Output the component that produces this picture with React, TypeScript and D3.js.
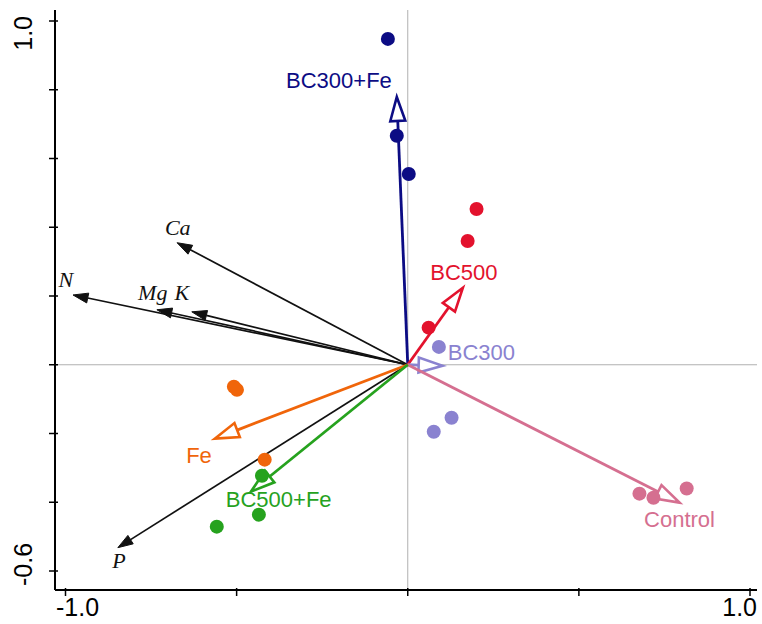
import React from "react";
import * as d3 from "d3";

// Treatment groups (sample scores)
const groups = ["BC300+Fe", "BC500", "BC300", "Control", "Fe", "BC500+Fe"];
const groupColors = ["#0c0c84", "#e3122d", "#8a82d0", "#d56f90", "#f0650a", "#26a21e"];
const groupPoints: [number, number][][] = [
  [[-0.058, 0.948], [-0.032, 0.666], [0.003, 0.555]],
  [[0.201, 0.453], [0.175, 0.36], [0.061, 0.108]],
  [[0.091, 0.052], [0.128, -0.154], [0.076, -0.195]],
  [[0.677, -0.375], [0.718, -0.387], [0.815, -0.36]],
  [[-0.508, -0.064], [-0.499, -0.073], [-0.418, -0.276]],
  [[-0.426, -0.323], [-0.435, -0.436], [-0.558, -0.471]],
];
const groupArrows: [number, number][] = [
  [-0.032, 0.779],
  [0.161, 0.224],
  [0.102, -0.003],
  [0.794, -0.401],
  [-0.564, -0.215],
  [-0.458, -0.369],
];
const groupLabelPos: [number, number][] = [
  [-0.201, 0.805],
  [0.164, 0.247],
  [0.117, 0.015],
  [0.794, -0.471],
  [-0.61, -0.285],
  [-0.377, -0.413],
];
const groupLabelAnchor = ["middle", "middle", "start", "middle", "middle", "middle"];

// Environmental variables
const variables = ["N", "Ca", "Mg", "K", "P"];
const variableArrows: [number, number][] = [
  [-0.978, 0.203],
  [-0.674, 0.355],
  [-0.733, 0.16],
  [-0.631, 0.154],
  [-0.847, -0.532],
];
const variableLabelPos: [number, number][] = [
  [-0.999, 0.227],
  [-0.672, 0.378],
  [-0.745, 0.189],
  [-0.66, 0.189],
  [-0.844, -0.59],
];

const xTicks = [-1.0, -0.5, 0, 0.5, 1.0];
const yTicks = [1.0, 0.8, 0.6, 0.4, 0.2, 0, -0.2, -0.4, -0.6];
const xTickLabels = ["-1.0", "1.0"];
const yTickLabels = ["1.0", "-0.6"];

const W = 762;
const H = 624;

function head(x0: number, y0: number, x1: number, y1: number, L: number, w: number) {
  const dx = x1 - x0;
  const dy = y1 - y0;
  const len = Math.sqrt(dx * dx + dy * dy) || 1;
  const ux = dx / len;
  const uy = dy / len;
  const bx = x1 - ux * L;
  const by = y1 - uy * L;
  const nx = -uy;
  const ny = ux;
  const pts = `${x1},${y1} ${bx + nx * w},${by + ny * w} ${bx - nx * w},${by - ny * w}`;
  return { bx, by, pts };
}

export default function App() {
  const x = d3.scaleLinear().domain([-1, 1]).range([65.5, 750]);
  const y = d3.scaleLinear().domain([-0.6, 1]).range([571, 21]);
  const left = 55;
  const right = 757;
  const top = 10;
  const bottom = 590;
  const ox = x(0);
  const oy = y(0);

  return (
    <svg
      width={W}
      height={H}
      style={{ position: "absolute", left: 0, top: 0, background: "#fff" }}
      fontFamily="Arial, 'Liberation Sans', sans-serif"
    >
      {/* reference lines */}
      <line x1={left} x2={right} y1={oy} y2={oy} stroke="#b0b0b0" strokeWidth={1} />
      <line x1={ox} x2={ox} y1={top} y2={bottom} stroke="#b0b0b0" strokeWidth={1} />

      {/* axes */}
      <line x1={left} x2={left} y1={top} y2={bottom} stroke="#000" strokeWidth={2} />
      <line x1={left} x2={right} y1={bottom} y2={bottom} stroke="#000" strokeWidth={2} />
      {yTicks.map((t, i) => (
        <line key={"yt" + i} x1={left - 6} x2={left + 3} y1={y(t)} y2={y(t)} stroke="#000" strokeWidth={1.5} />
      ))}
      {xTicks.map((t, i) => (
        <line key={"xt" + i} x1={x(t)} x2={x(t)} y1={bottom - 2} y2={bottom + 6} stroke="#000" strokeWidth={1.5} />
      ))}
      <text x={left + 1} y={616} fontSize={25} textAnchor="start">{xTickLabels[0]}</text>
      <text x={right} y={616} fontSize={25} textAnchor="end">{xTickLabels[1]}</text>
      <text transform={`translate(32,${top + 6}) rotate(-90)`} fontSize={25} textAnchor="end">{yTickLabels[0]}</text>
      <text transform={`translate(32,${bottom - 4}) rotate(-90)`} fontSize={25} textAnchor="start">{yTickLabels[1]}</text>

      {/* environmental variable arrows */}
      {variableArrows.map((a, i) => {
        const h = head(ox, oy, x(a[0]), y(a[1]), 15, 5);
        return (
          <g key={"va" + i}>
            <line x1={ox} y1={oy} x2={h.bx} y2={h.by} stroke="#111" strokeWidth={1.7} />
            <polygon points={h.pts} fill="#111" stroke="#111" strokeWidth={1} />
          </g>
        );
      })}

      {/* treatment arrows */}
      {groupArrows.map((a, i) => {
        const h = head(ox, oy, x(a[0]), y(a[1]), 24, 7.5);
        return (
          <g key={"ga" + i}>
            <line x1={ox} y1={oy} x2={h.bx} y2={h.by} stroke={groupColors[i]} strokeWidth={2.8} />
            <polygon points={h.pts} fill="#fff" stroke={groupColors[i]} strokeWidth={2.6} strokeLinejoin="miter" />
          </g>
        );
      })}

      {/* sample points */}
      {groupPoints.map((pts, i) =>
        pts.map((p, j) => (
          <circle key={`p${i}-${j}`} cx={x(p[0])} cy={y(p[1])} r={7} fill={groupColors[i]} />
        ))
      )}

      {/* treatment labels */}
      {groups.map((g, i) => (
        <text
          key={"gl" + i}
          x={x(groupLabelPos[i][0])}
          y={y(groupLabelPos[i][1])}
          fontSize={22}
          fill={groupColors[i]}
          textAnchor={groupLabelAnchor[i] as any}
        >
          {g}
        </text>
      ))}

      {/* variable labels */}
      {variables.map((v, i) => (
        <text
          key={"vl" + i}
          x={x(variableLabelPos[i][0])}
          y={y(variableLabelPos[i][1])}
          fontSize={22}
          fontStyle="italic"
          fontFamily="'Liberation Serif', 'DejaVu Serif', serif"
          fill="#111"
          textAnchor="middle"
        >
          {v}
        </text>
      ))}
    </svg>
  );
}
